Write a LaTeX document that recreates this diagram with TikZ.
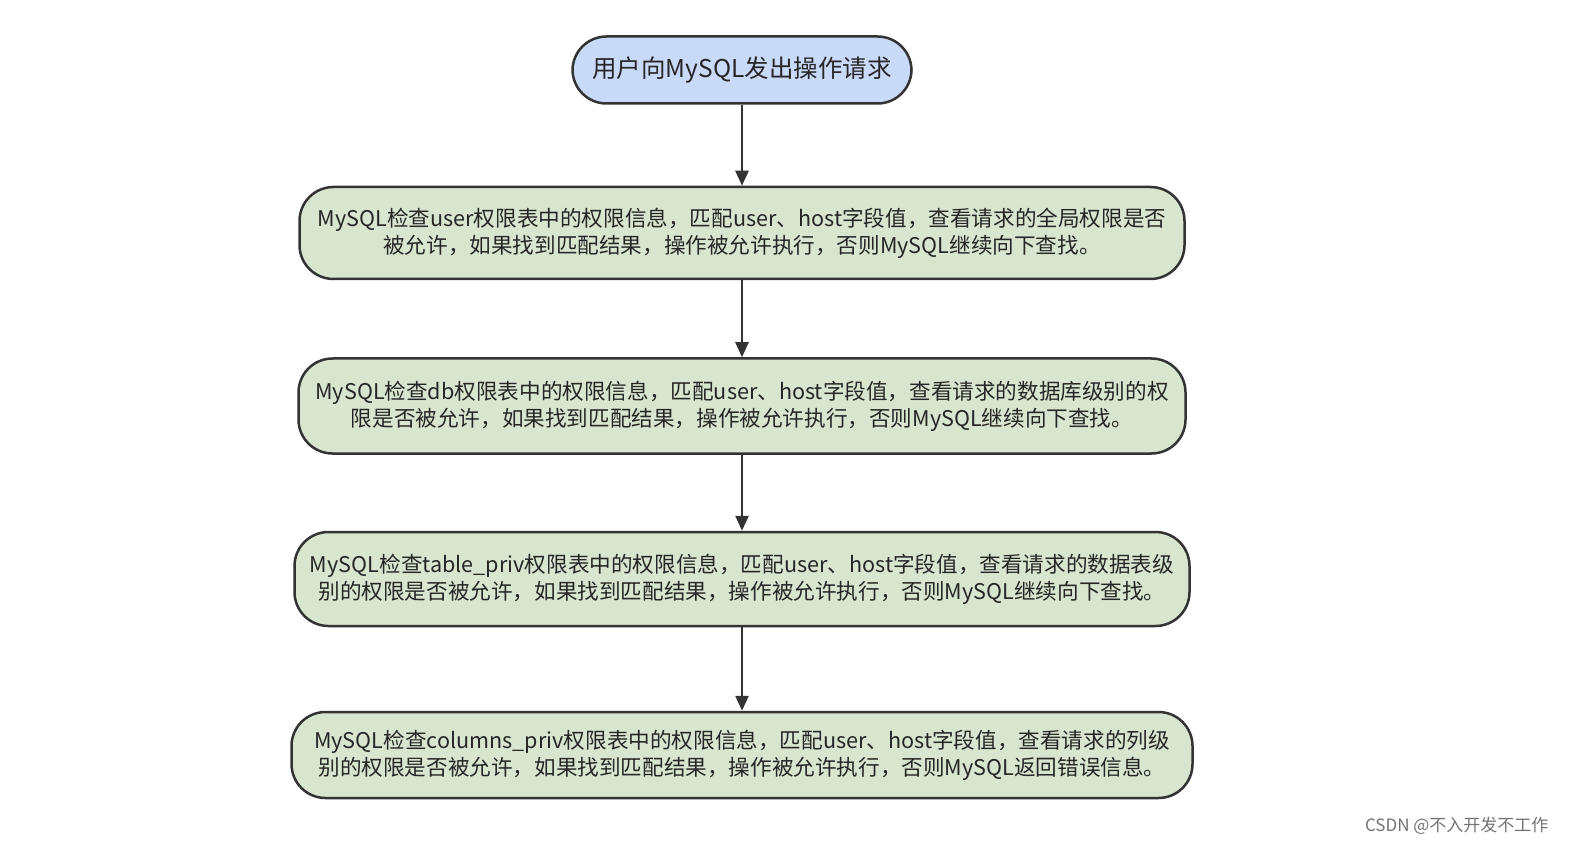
\documentclass[tikz,border=0pt]{standalone}
\usepackage{fontspec}
\setmainfont{Noto Sans CJK SC}
\usetikzlibrary{arrows.meta}
\definecolor{bluef}{HTML}{C9DAF8}
\definecolor{greenf}{HTML}{D9E6CF}
\definecolor{edge}{HTML}{333333}
\tikzset{
  box/.style={draw=edge, line width=2.5pt, rounded corners=34pt, align=center, inner sep=0pt,
    font=\fontsize{21.6pt}{27pt}\selectfont, text=black!85},
  arr/.style={draw=edge, line width=2.5pt, -{Triangle[length=15pt,width=13pt]}}
}
\begin{document}
\begin{tikzpicture}[x=1pt,y=-1pt]
\useasboundingbox (0,0) rectangle (1590,858);
\node[box, fill=bluef, minimum width=339pt, minimum height=67pt, font=\fontsize{24.5pt}{28pt}\selectfont] (n0) at (742,70) {用户向MySQL发出操作请求};
\node[box, fill=greenf, minimum width=885pt, minimum height=92pt] (n1) at (742,233)
 {MySQL检查user权限表中的权限信息，匹配user、host字段值，查看请求的全局权限是否\\被允许，如果找到匹配结果，操作被允许执行，否则MySQL继续向下查找。};
\node[box, fill=greenf, minimum width=887pt, minimum height=95pt] (n2) at (742,406)
 {MySQL检查db权限表中的权限信息，匹配user、host字段值，查看请求的数据库级别的权\\限是否被允许，如果找到匹配结果，操作被允许执行，否则MySQL继续向下查找。};
\node[box, fill=greenf, minimum width=895pt, minimum height=94pt] (n3) at (742,579)
 {MySQL检查table\_priv权限表中的权限信息，匹配user、host字段值，查看请求的数据表级\\别的权限是否被允许，如果找到匹配结果，操作被允许执行，否则MySQL继续向下查找。};
\node[box, fill=greenf, minimum width=901pt, minimum height=86pt] (n4) at (742,755)
 {MySQL检查columns\_priv权限表中的权限信息，匹配user、host字段值，查看请求的列级\\别的权限是否被允许，如果找到匹配结果，操作被允许执行，否则MySQL返回错误信息。};
\draw[arr] (n0) -- (n1);
\draw[arr] (n1) -- (n2);
\draw[arr] (n2) -- (n3);
\draw[arr] (n3) -- (n4);
\node[font=\fontsize{17pt}{20pt}\selectfont, text=black!55, anchor=east] (wm) at (1552,826) {CSDN @不入开发不工作};
\end{tikzpicture}
\end{document}
